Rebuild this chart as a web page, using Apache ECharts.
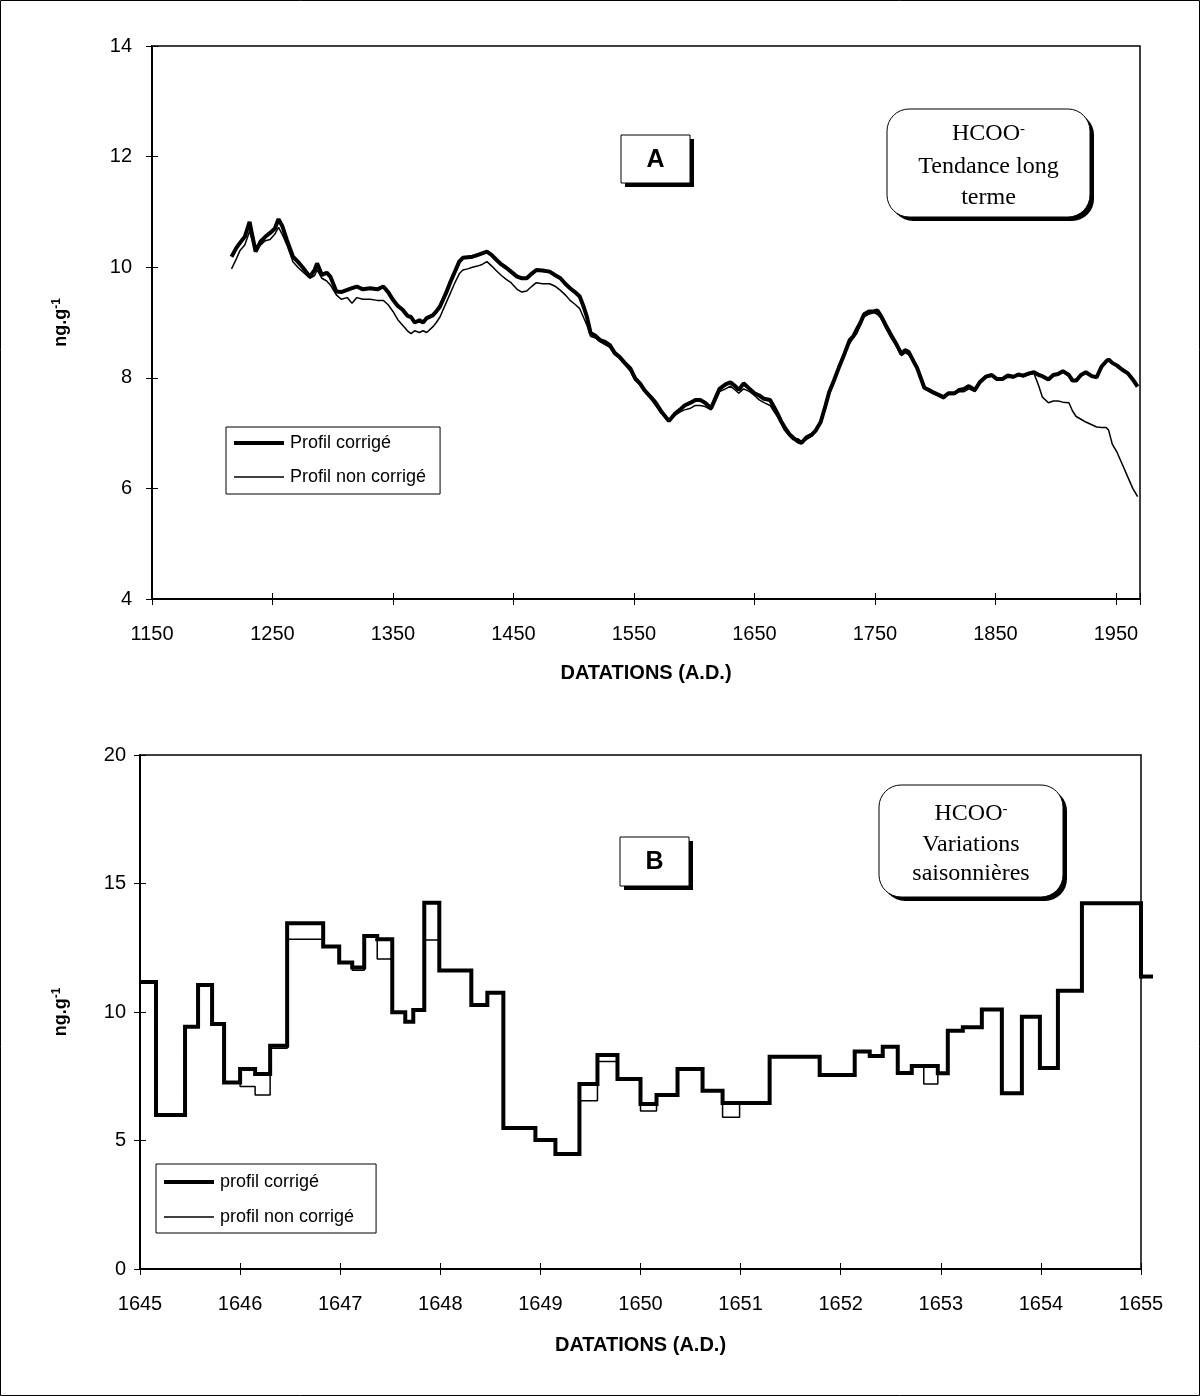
<!DOCTYPE html>
<html>
<head>
<meta charset="utf-8">
<script src="https://cdn.jsdelivr.net/npm/echarts/dist/echarts.min.js"></script>
<style>
  html, body { margin: 0; padding: 0; background: #fff; }
  #chart { width: 1200px; height: 1396px; }
</style>
</head>
<body>
<div id="chart"></div>
<script>
// ---- Panel A: long-term trend (running mean), years A.D. ----
const yearsA = [
  1216,1220,1223,1227,1231,1233,1236,1240,1244,1248,
  1252,1255,1258,1262,1267,1271,1275,1281,1285,1287,
  1291,1295,1298,1303,1307,1312,1316,1320,1325,1331,
  1337,1342,1346,1350,1354,1358,1362,1365,1368,1372,
  1375,1378,1383,1386,1389,1394,1398,1401,1405,1408,
  1412,1416,1420,1424,1428,1432,1436,1440,1444,1448,
  1453,1457,1461,1465,1469,1474,1480,1485,1489,1493,
  1497,1501,1505,1508,1511,1514,1518,1522,1526,1530,
  1534,1538,1542,1547,1551,1555,1559,1564,1568,1573,
  1579,1584,1588,1592,1597,1601,1605,1609,1614,1618,
  1621,1626,1630,1634,1637,1641,1646,1650,1654,1658,
  1663,1666,1669,1672,1675,1679,1682,1686,1689,1693,
  1698,1701,1705,1709,1712,1716,1720,1725,1729,1732,
  1735,1738,1741,1745,1749,1752,1755,1759,1764,1768,
  1772,1775,1778,1782,1785,1788,1791,1795,1798,1802,
  1807,1811,1816,1820,1824,1828,1833,1837,1842,1847,
  1851,1856,1860,1865,1869,1873,1878,1882,1886,1889,
  1894,1898,1902,1906,1911,1914,1917,1921,1925,1930,
  1934,1938,1942,1944,1947,1951,1955,1960,1964,1968
];
const corrA = [
  10.19,10.35,10.44,10.55,10.82,10.60,10.28,10.46,10.55,10.62,
  10.70,10.87,10.75,10.49,10.19,10.10,10.00,9.83,9.95,10.07,
  9.86,9.90,9.83,9.56,9.55,9.59,9.62,9.65,9.60,9.62,
  9.60,9.65,9.55,9.41,9.30,9.23,9.12,9.10,9.00,9.04,
  9.00,9.08,9.13,9.20,9.29,9.53,9.75,9.90,10.10,10.17,
  10.18,10.19,10.22,10.25,10.28,10.22,10.13,10.05,9.99,9.92,
  9.83,9.80,9.80,9.88,9.95,9.94,9.92,9.85,9.80,9.70,
  9.62,9.55,9.47,9.30,9.10,8.81,8.76,8.68,8.65,8.59,
  8.45,8.38,8.28,8.17,7.99,7.90,7.77,7.65,7.55,7.38,
  7.22,7.35,7.42,7.50,7.55,7.60,7.60,7.55,7.45,7.65,
  7.80,7.88,7.92,7.85,7.78,7.90,7.80,7.72,7.68,7.62,
  7.60,7.48,7.36,7.22,7.11,6.98,6.92,6.85,6.82,6.92,
  6.98,7.05,7.20,7.50,7.74,7.95,8.18,8.45,8.68,8.75,
  8.88,9.00,9.15,9.20,9.20,9.22,9.12,8.95,8.75,8.60,
  8.43,8.50,8.47,8.30,8.18,8.00,7.82,7.78,7.74,7.70,
  7.65,7.72,7.72,7.78,7.80,7.85,7.78,7.92,8.02,8.05,
  7.98,7.98,8.04,8.02,8.06,8.04,8.08,8.10,8.05,8.03,
  7.97,8.05,8.07,8.12,8.05,7.95,7.95,8.05,8.10,8.03,
  8.01,8.20,8.30,8.33,8.27,8.22,8.15,8.08,7.97,7.84
];
const rawA = [
  9.97,10.15,10.30,10.40,10.65,10.50,10.30,10.40,10.48,10.50,
  10.60,10.72,10.60,10.40,10.10,10.00,9.92,9.80,9.85,9.95,
  9.80,9.75,9.68,9.50,9.42,9.45,9.35,9.45,9.42,9.42,
  9.40,9.40,9.32,9.20,9.05,8.95,8.85,8.80,8.85,8.82,
  8.85,8.82,8.92,9.00,9.10,9.35,9.55,9.70,9.88,9.95,
  9.97,10.00,10.02,10.05,10.10,10.02,9.93,9.85,9.78,9.72,
  9.60,9.55,9.57,9.65,9.72,9.70,9.70,9.65,9.58,9.50,
  9.40,9.33,9.25,9.10,8.95,8.75,8.72,8.65,8.60,8.55,
  8.42,8.35,8.25,8.12,7.95,7.87,7.74,7.62,7.50,7.35,
  7.25,7.32,7.38,7.42,7.45,7.50,7.50,7.48,7.42,7.60,
  7.75,7.80,7.85,7.78,7.72,7.80,7.75,7.68,7.60,7.55,
  7.50,7.40,7.30,7.18,7.05,6.95,6.88,6.90,6.85,6.88,
  6.95,7.05,7.18,7.45,7.70,7.92,8.15,8.42,8.62,8.72,
  8.80,8.95,9.10,9.15,9.18,9.15,9.08,8.90,8.70,8.58,
  8.40,8.45,8.42,8.28,8.15,7.98,7.80,7.75,7.72,7.68,
  7.62,7.70,7.70,7.75,7.75,7.80,7.75,7.90,8.00,8.03,
  7.96,7.96,8.01,8.00,8.04,8.02,8.06,8.08,7.85,7.65,
  7.55,7.58,7.58,7.56,7.55,7.40,7.30,7.25,7.20,7.15,
  7.11,7.10,7.10,7.05,6.80,6.65,6.45,6.20,6.00,5.85
];
const ticksA_x = [1150, 1250, 1350, 1450, 1550, 1650, 1750, 1850, 1950];

// ---- Panel B: seasonal variations, one value per sample interval ----
// edgesB[i] .. edgesB[i+1] is the time span of sample i
const edgesB = [
  1645.00,1645.16,1645.45,1645.58,1645.72,1645.84,1646.00,1646.15,1646.30,1646.47,
  1646.83,1646.99,1647.12,1647.24,1647.37,1647.52,1647.65,1647.73,1647.84,1647.99,
  1648.31,1648.47,1648.63,1648.95,1649.15,1649.39,1649.57,1649.77,1650.00,1650.16,
  1650.37,1650.62,1650.82,1650.99,1651.29,1651.79,1652.14,1652.29,1652.42,1652.57,
  1652.71,1652.83,1652.97,1653.07,1653.22,1653.41,1653.61,1653.81,1653.99,1654.17,
  1654.41,1655.00,1655.12
];
const corrB = [
  11.17,5.99,9.43,11.05,9.53,7.26,7.78,7.59,8.69,13.45,
  12.55,11.93,11.73,12.96,12.83,9.99,9.62,10.08,14.25,11.61,
  10.27,10.75,5.49,5.02,4.47,7.20,8.33,7.39,6.42,6.77,
  7.78,6.94,6.46,6.46,8.26,7.55,8.46,8.29,8.65,7.63,
  7.90,7.90,7.62,9.27,9.41,10.10,6.84,9.82,7.82,10.83,
  14.23,11.38
];
const rawB = [
  11.17,5.99,9.43,11.05,9.53,7.26,7.10,6.77,8.59,12.83,
  12.55,11.93,11.62,12.96,12.06,9.99,9.62,10.08,12.80,11.61,
  10.27,10.75,5.49,5.02,4.47,6.55,8.07,7.39,6.15,6.77,
  7.78,6.94,5.90,6.46,8.26,7.55,8.46,8.29,8.65,7.63,
  7.90,7.20,7.62,9.27,9.41,10.10,6.84,9.82,7.82,10.83,
  14.23,11.38
];

const SANS = "'Liberation Sans', Arial, Helvetica, sans-serif";
const SERIF = "'Liberation Serif', 'Times New Roman', serif";

function pairs(xs, ys) { return xs.map((x, i) => [x, ys[i]]); }
function stepPairs(edges, vals) {
  const out = vals.map((v, i) => [edges[i], v]);
  out.push([edges[edges.length - 1], vals[vals.length - 1]]);
  return out;
}

const chart = echarts.init(document.getElementById('chart'), null, { renderer: 'canvas' });

const labelStyle = { color: '#000', fontSize: 20, fontFamily: SANS };
const nameStyleX = { color: '#000', fontSize: 20, fontWeight: 'bold', fontFamily: SANS };
const nameStyleY = {
  color: '#000', fontFamily: SANS,
  rich: {
    b: { fontSize: 18, fontWeight: 'bold', fontFamily: SANS, color: '#000' },
    s: { fontSize: 12, fontWeight: 'bold', fontFamily: SANS, color: '#000', verticalAlign: 'top', padding: [0, 0, 9, 0] }
  }
};

function mainX(grid, min, max, interval, fmt, nameGap) {
  return {
    gridIndex: grid, type: 'value', min, max, interval, position: 'bottom',
    axisLine: { show: true, onZero: false, lineStyle: { color: '#000', width: 2 } },
    axisTick: { show: true, length: 6, lineStyle: { color: '#000', width: 1 } },
    axisLabel: { ...labelStyle, margin: 25, formatter: fmt },
    splitLine: { show: false },
    name: 'DATATIONS (A.D.)', nameLocation: 'middle', nameGap, nameTextStyle: nameStyleX
  };
}
function innerX(grid, min, max, interval) {
  return {
    gridIndex: grid, type: 'value', min, max, interval, position: 'bottom',
    axisLine: { show: false }, axisLabel: { show: false }, splitLine: { show: false },
    axisTick: { show: true, inside: true, length: 6, lineStyle: { color: '#000', width: 1 } }
  };
}
function mainY(grid, min, max, interval, margin, nameGap) {
  return {
    gridIndex: grid, type: 'value', min, max, interval, position: 'left',
    axisLine: { show: true, onZero: false, lineStyle: { color: '#000', width: 2 } },
    axisTick: { show: true, length: 6, lineStyle: { color: '#000', width: 1 } },
    axisLabel: { ...labelStyle, margin },
    splitLine: { show: false },
    name: '{b|ng.g}{s|-1}', nameLocation: 'middle', nameGap, nameTextStyle: nameStyleY
  };
}
function innerY(grid, min, max, interval) {
  return {
    gridIndex: grid, type: 'value', min, max, interval, position: 'left', offset: 0,
    axisLine: { show: false }, axisLabel: { show: false }, splitLine: { show: false },
    axisTick: { show: true, inside: true, length: 6, lineStyle: { color: '#000', width: 1 } }
  };
}

const fmtA = v => (ticksA_x.indexOf(v) >= 0 ? String(v) : '');
const fmtB = v => (Number.isInteger(v) ? String(v) : '');

// legend keys show only the line (the point marker is made fully transparent)
const hiddenMarker = { opacity: 0, color: 'rgba(0,0,0,0)', borderColor: 'rgba(0,0,0,0)', borderWidth: 0 };
function legendCfg(left, top, names, padding, itemGap) {
  return {
    orient: 'vertical', left, top, padding, itemGap,
    borderColor: '#000', borderWidth: 1, backgroundColor: '#fff',
    itemWidth: 50, itemHeight: 14, selectedMode: false,
    textStyle: { color: '#000', fontSize: 18, fontFamily: SANS, padding: [0, 0, 0, 1] },
    data: [
      { name: names[0], lineStyle: { width: 4, color: '#000' }, itemStyle: hiddenMarker },
      { name: names[1], lineStyle: { width: 1.5, color: '#000' }, itemStyle: hiddenMarker }
    ]
  };
}

function labelBox(x, y, w, h, letter) {
  return [
    { type: 'rect', shape: { x: x + 4, y: y + 4, width: w, height: h }, style: { fill: '#000' }, z: 100 },
    { type: 'rect', shape: { x, y, width: w, height: h }, style: { fill: '#fff', stroke: '#000', lineWidth: 1 }, z: 101 },
    { type: 'text', x: x + w / 2, y: y + h / 2 + 1, z: 102,
      style: { text: letter, fill: '#000', font: "bold 25px " + SANS, align: 'center', verticalAlign: 'middle' } }
  ];
}

function roundBox(x, y, w, h, lines, lineYs) {
  const els = [
    { type: 'rect', shape: { x: x + 4, y: y + 4, width: w, height: h, r: 22 }, style: { fill: '#000' }, z: 100 },
    { type: 'rect', shape: { x, y, width: w, height: h, r: 22 }, style: { fill: '#fff', stroke: '#000', lineWidth: 1 }, z: 101 }
  ];
  lines.forEach((t, i) => {
    els.push({
      type: 'text', x: x + w / 2, y: lineYs[i], z: 102,
      style: {
        text: t, align: 'center', verticalAlign: 'middle', fill: '#000',
        font: "24px " + SERIF,
        rich: {
          m: { fontSize: 24, fontFamily: SERIF, fill: '#000', color: '#000' },
          s: { fontSize: 15, fontFamily: SERIF, fill: '#000', color: '#000', verticalAlign: 'top', padding: [0, 0, 8, 0] }
        }
      }
    });
  });
  return els;
}

const option = {
  backgroundColor: '#fff',
  animation: false,
  grid: [
    { left: 152, top: 46, width: 988, height: 553, show: true, borderColor: '#000', borderWidth: 1.5, backgroundColor: 'transparent' },
    { left: 140, top: 755, width: 1001, height: 514, show: true, borderColor: '#000', borderWidth: 1.5, backgroundColor: 'transparent' }
  ],
  xAxis: [
    mainX(0, 1150, 1970, 100, fmtA, 64),
    innerX(0, 1150, 1970, 100),
    mainX(1, 1645, 1655, 1, fmtB, 66),
    innerX(1, 1645, 1655, 1)
  ],
  yAxis: [
    mainY(0, 4, 14, 2, 20, 80),
    innerY(0, 4, 14, 2),
    mainY(1, 0, 20, 5, 14, 68),
    innerY(1, 0, 20, 5)
  ],
  legend: [
    legendCfg(226, 427, ['Profil corrigé', 'Profil non corrigé'], [7, 14, 8, 6], 16),
    legendCfg(156, 1164, ['profil corrigé', 'profil non corrigé'], [9, 22, 7, 6], 17)
  ],
  series: [
    { name: 'Profil non corrigé', type: 'line', xAxisIndex: 0, yAxisIndex: 0, data: pairs(yearsA, rawA),
      symbol: 'none', lineStyle: { color: '#000', width: 1.5 }, itemStyle: { color: '#000' }, z: 2 },
    { name: 'Profil corrigé', type: 'line', xAxisIndex: 0, yAxisIndex: 0, data: pairs(yearsA, corrA),
      symbol: 'none', lineStyle: { color: '#000', width: 4 }, itemStyle: { color: '#000' }, z: 3 },
    { name: 'profil non corrigé', type: 'line', xAxisIndex: 2, yAxisIndex: 2, data: stepPairs(edgesB, rawB),
      step: 'end', symbol: 'none', clip: false, lineStyle: { color: '#000', width: 1.5 }, itemStyle: { color: '#000' }, z: 2 },
    { name: 'profil corrigé', type: 'line', xAxisIndex: 2, yAxisIndex: 2, data: stepPairs(edgesB, corrB),
      step: 'end', symbol: 'none', clip: false, lineStyle: { color: '#000', width: 4, join: 'miter' }, itemStyle: { color: '#000' }, z: 3 }
  ],
  graphic: [
    { type: 'rect', shape: { x: 0.5, y: 0.5, width: 1199, height: 1395 }, style: { fill: 'none', stroke: '#000', lineWidth: 1 }, z: 0, silent: true },
    ...labelBox(621, 135, 69, 48, 'A'),
    ...labelBox(620, 837, 69, 49, 'B'),
    ...roundBox(887, 109, 203, 108, ['{m|HCOO}{s|-}', '{m|Tendance long}', '{m|terme}'], [134, 167, 198]),
    ...roundBox(879, 785, 184, 112, ['{m|HCOO}{s|-}', '{m|Variations}', '{m|saisonnières}'], [814, 845, 874])
  ]
};

chart.setOption(option);

// The last sample of panel B runs past the axis end; the series renderer drops
// that stretch, so it is drawn from the same data through the axis scales.
const nB = corrB.length;
const pStart = chart.convertToPixel({ xAxisIndex: 2, yAxisIndex: 2 }, [edgesB[nB - 1], corrB[nB - 1]]);
const pEnd = chart.convertToPixel({ xAxisIndex: 2, yAxisIndex: 2 }, [edgesB[nB], corrB[nB - 1]]);
option.graphic.push({
  type: 'polyline', z: 50, silent: true,
  shape: { points: [pStart, pEnd] },
  style: { stroke: '#000', lineWidth: 4, fill: null }
});
chart.setOption(option, true);
</script>
</body>
</html>
